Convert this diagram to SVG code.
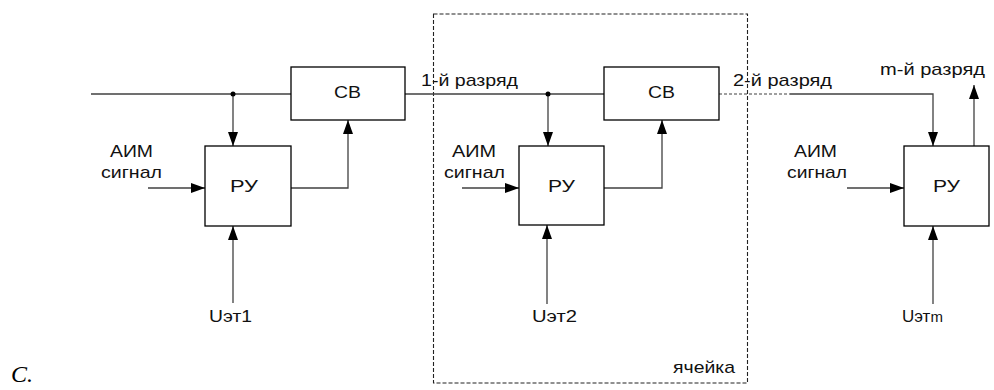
<svg xmlns="http://www.w3.org/2000/svg" width="994" height="390" viewBox="0 0 994 390">
<defs>
<marker id="arr" viewBox="0 0 14 10" refX="14" refY="5" markerWidth="14" markerHeight="10" markerUnits="userSpaceOnUse" orient="auto">
<path d="M0,0 L14,5 L0,10 Z" fill="#000"/>
</marker>
<style>
.box{fill:#fff;stroke:#000;stroke-width:1.3}
.ln{fill:none;stroke:#404040;stroke-width:1.3}
.dl{fill:none;stroke:#404040;stroke-width:1.2;stroke-dasharray:3,2}
.cell{fill:none;stroke:#222;stroke-width:1.1;stroke-dasharray:4,2}
.t{font-family:"Liberation Sans",Arial,sans-serif;font-size:17px;fill:#111}
.dot{fill:#000}
</style>
</defs>
<rect width="994" height="390" fill="#fff"/>

<g id="cell">
<rect class="cell" x="433.5" y="14" width="314" height="369"/>
<text class="t" x="673" y="373" textLength="62" lengthAdjust="spacingAndGlyphs">ячейка</text>
</g>

<g id="connectors">
<path class="ln" d="M91,94 H291"/>
<path class="ln" d="M405,94 H604"/>
<path class="ln" d="M233,94 V146" marker-end="url(#arr)"/>
<path class="ln" d="M291,188 H348 V120" marker-end="url(#arr)"/>
<path class="ln" d="M148,188 H205" marker-end="url(#arr)"/>
<path class="ln" d="M233,303 V226" marker-end="url(#arr)"/>
<path class="ln" d="M548,94 V146" marker-end="url(#arr)"/>
<path class="ln" d="M604,188 H662 V120" marker-end="url(#arr)"/>
<path class="ln" d="M462,188 H519" marker-end="url(#arr)"/>
<path class="ln" d="M547,304 V225" marker-end="url(#arr)"/>
<path class="dl" d="M719,94 H790"/>
<path class="ln" d="M790,94 H933 V146" marker-end="url(#arr)"/>
<path class="ln" d="M974,146 V85" marker-end="url(#arr)"/>
<path class="ln" d="M847,188 H904" marker-end="url(#arr)"/>
<path class="ln" d="M933,304 V226" marker-end="url(#arr)"/>
<circle class="dot" cx="233" cy="94" r="2.5"/>
<circle class="dot" cx="548" cy="94" r="2.5"/>
</g>

<g id="cb1">
<rect class="box" x="291" y="67" width="114" height="53"/>
<text class="t" x="334" y="98" textLength="27" lengthAdjust="spacingAndGlyphs">СВ</text>
</g>
<g id="ru1">
<rect class="box" x="205" y="146" width="86" height="80"/>
<text class="t" x="230" y="192" textLength="28" lengthAdjust="spacingAndGlyphs">РУ</text>
</g>
<g id="cb2">
<rect class="box" x="604" y="67" width="115" height="53"/>
<text class="t" x="648" y="98" textLength="27" lengthAdjust="spacingAndGlyphs">СВ</text>
</g>
<g id="ru2">
<rect class="box" x="519" y="146" width="85" height="79"/>
<text class="t" x="548" y="192" textLength="27" lengthAdjust="spacingAndGlyphs">РУ</text>
</g>
<g id="ru3">
<rect class="box" x="904" y="146" width="85" height="80"/>
<text class="t" x="933" y="192" textLength="27" lengthAdjust="spacingAndGlyphs">РУ</text>
</g>

<g id="labels">
<text class="t" x="110" y="157" textLength="43" lengthAdjust="spacingAndGlyphs">АИМ</text>
<text class="t" x="101" y="178" textLength="61" lengthAdjust="spacingAndGlyphs">сигнал</text>
<text class="t" x="452" y="157" textLength="44" lengthAdjust="spacingAndGlyphs">АИМ</text>
<text class="t" x="444" y="178" textLength="61" lengthAdjust="spacingAndGlyphs">сигнал</text>
<text class="t" x="794" y="157" textLength="43" lengthAdjust="spacingAndGlyphs">АИМ</text>
<text class="t" x="787" y="178" textLength="60" lengthAdjust="spacingAndGlyphs">сигнал</text>
<text class="t" x="421" y="86" textLength="97" lengthAdjust="spacingAndGlyphs">1-й разряд</text>
<text class="t" x="733" y="86" textLength="99" lengthAdjust="spacingAndGlyphs">2-й разряд</text>
<text class="t" x="880" y="75" textLength="105" lengthAdjust="spacingAndGlyphs">m-й разряд</text>
<text class="t" x="209" y="322" textLength="43" lengthAdjust="spacingAndGlyphs">Uэт1</text>
<text class="t" x="532" y="322" textLength="45" lengthAdjust="spacingAndGlyphs">Uэт2</text>
<text class="t" x="902" y="322">Uэт<tspan font-size="15">m</tspan></text>
<text x="11" y="382" font-family="'Liberation Serif','Times New Roman',serif" font-style="italic" font-size="24">C.</text>
</g>
</svg>
